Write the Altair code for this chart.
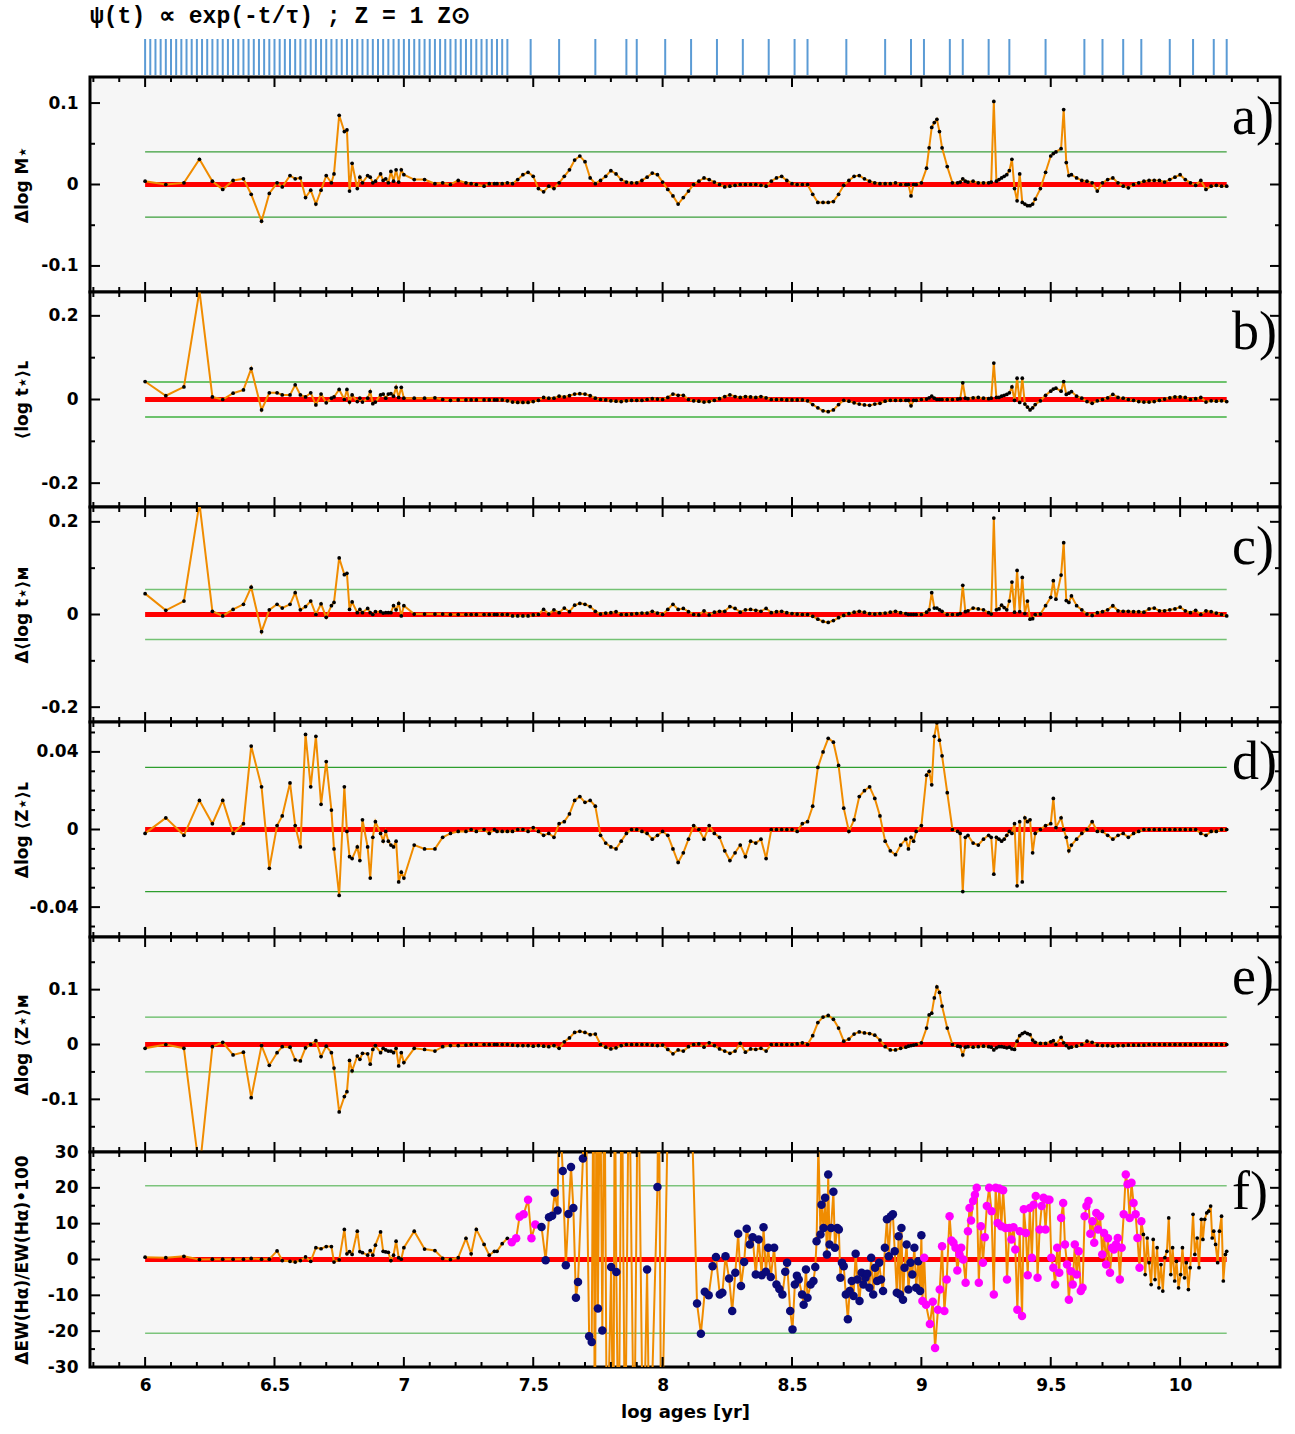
import altair as alt
import pandas as pd

TITLE = "ψ(t) ∝ exp(-t/τ) ; Z = 1 Z⊙"

# ages of the base populations (blue ticks above the first panel)
BASE_AGES = [
    6.00, 6.02, 6.04, 6.06, 6.08, 6.10, 6.12, 6.14, 6.16, 6.18,
    6.20, 6.22, 6.24, 6.26, 6.28, 6.30, 6.32, 6.34, 6.36, 6.38,
    6.40, 6.42, 6.44, 6.46, 6.48, 6.50, 6.52, 6.54, 6.56, 6.58,
    6.60, 6.62, 6.64, 6.66, 6.68, 6.70, 6.72, 6.74, 6.76, 6.78,
    6.80, 6.82, 6.84, 6.86, 6.88, 6.90, 6.92, 6.94, 6.96, 6.98,
    7.00, 7.02, 7.04, 7.06, 7.08, 7.10, 7.12, 7.14, 7.16, 7.18,
    7.20, 7.22, 7.24, 7.26, 7.28, 7.30, 7.32, 7.34, 7.36, 7.38, 7.40,
    7.49, 7.60, 7.74, 7.86, 7.90, 8.01, 8.11, 8.21, 8.31, 8.41,
    8.51, 8.56, 8.71, 8.86, 8.96, 9.01, 9.11, 9.16, 9.26, 9.34,
    9.48, 9.63, 9.70, 9.78, 9.85, 9.96, 10.05, 10.13, 10.18,
]

# ages of the test cases (shared by panels a-e)
LEFT_AGES = [
    6.00, 6.08, 6.15, 6.21, 6.26, 6.30, 6.34, 6.38, 6.41, 6.45,
    6.48, 6.51, 6.53, 6.56, 6.58, 6.60, 6.62, 6.64, 6.66, 6.68,
    6.70, 6.72, 6.73, 6.75, 6.77, 6.78, 6.79, 6.80, 6.82, 6.83,
    6.84, 6.86, 6.87, 6.88, 6.89, 6.91, 6.92, 6.93, 6.94, 6.95,
    6.96, 6.97, 6.98, 6.99, 7.00, 7.04, 7.08, 7.12, 7.15, 7.18,
    7.21, 7.24, 7.26, 7.28, 7.31, 7.33, 7.35, 7.36, 7.38, 7.40,
]
RIGHT_AGES = [
    7.42, 7.44, 7.46, 7.48, 7.50, 7.52, 7.54, 7.56, 7.58, 7.60,
    7.62, 7.64, 7.66, 7.68, 7.70, 7.72, 7.74, 7.76, 7.78, 7.80,
    7.82, 7.84, 7.86, 7.88, 7.90, 7.92, 7.94, 7.96, 7.98, 8.00,
    8.02, 8.04, 8.06, 8.08, 8.10, 8.12, 8.14, 8.16, 8.18, 8.20,
    8.22, 8.24, 8.26, 8.28, 8.30, 8.32, 8.34, 8.36, 8.38, 8.40,
    8.42, 8.44, 8.46, 8.48, 8.50, 8.52, 8.54, 8.56, 8.58, 8.60,
    8.62, 8.64, 8.66, 8.68, 8.70, 8.72, 8.74, 8.76, 8.78, 8.80,
    8.82, 8.84, 8.86, 8.88, 8.90, 8.92, 8.94, 8.95, 8.96, 8.97, 8.98, 9.00,
    9.02, 9.03, 9.04, 9.05, 9.06, 9.07, 9.08, 9.10,
    9.12, 9.14, 9.15, 9.16, 9.17, 9.18, 9.20,
    9.22, 9.24, 9.26, 9.27, 9.28, 9.29, 9.30,
    9.31, 9.32, 9.33, 9.34, 9.35, 9.36, 9.37, 9.38, 9.39, 9.40,
    9.41, 9.42, 9.43, 9.44, 9.46, 9.48, 9.50,
    9.51, 9.52, 9.54, 9.55, 9.56, 9.57, 9.58, 9.60,
    9.62, 9.64, 9.66, 9.68, 9.70, 9.72, 9.74, 9.76, 9.78, 9.80,
    9.82, 9.84, 9.86, 9.88, 9.90, 9.92, 9.94, 9.96, 9.98, 10.00,
    10.02, 10.04, 10.06, 10.08, 10.10, 10.12, 10.14, 10.16, 10.18,
]
AGES = LEFT_AGES + RIGHT_AGES

# a) Delta log M*
A_Y = [
    0.004, 0.0, 0.002, 0.031, 0.004, -0.006, 0.005, 0.007, -0.012, -0.045,
    -0.011, 0.002, -0.003, 0.011, 0.007, 0.008, -0.016, -0.007, -0.024, -0.007,
    0.011, 0.002, 0.013, 0.085, 0.065, 0.067, -0.008, 0.026, -0.005, 0.009,
    0.002, 0.011, 0.009, 0.002, 0.004, 0.013, 0.005, 0.007, 0.002, 0.016,
    0.004, 0.018, 0.003, 0.018, 0.012, 0.006, 0.006, 0.001, 0.002, 0.0,
    0.005, 0.002, 0.001, 0.0, -0.002, 0.001, 0.001, 0.001, 0.001, 0.002,
    0.001, 0.006, 0.012, 0.015, 0.01, -0.005, -0.009, -0.002, -0.005, 0.002,
    0.01, 0.018, 0.03, 0.035, 0.028, 0.008, 0.001, 0.005, 0.01, 0.017,
    0.013, 0.006, 0.003, 0.002, 0.002, 0.005, 0.009, 0.014, 0.012, 0.003,
    -0.006, -0.014, -0.024, -0.016, -0.008, 0.0, 0.004, 0.008, 0.006, 0.003,
    0.0, -0.003, -0.002, -0.001, 0.0, 0.0, 0.0, 0.0, -0.001, -0.002,
    0.004, 0.008, 0.01, 0.005, 0.001, 0.0, 0.0, 0.0, -0.012, -0.022,
    -0.022, -0.022, -0.021, -0.012, -0.001, 0.005, 0.01, 0.011, 0.007, 0.004,
    0.002, 0.001, 0.001, 0.001, 0.002, 0.0, 0.0, 0.0, -0.014, 0.0, 0.0, 0.002,
    0.02, 0.045, 0.07, 0.076, 0.08, 0.065, 0.045, 0.022,
    0.002, 0.002, 0.003, 0.007, 0.004, 0.003, 0.004,
    0.002, 0.002, 0.002, 0.003, 0.102, 0.004, 0.006,
    0.008, 0.01, 0.012, 0.017, 0.031, -0.005, -0.02, 0.013, -0.022, -0.024,
    -0.026, -0.026, -0.024, -0.018, -0.005, 0.015, 0.035,
    0.038, 0.04, 0.044, 0.092, 0.027, 0.011, 0.012, 0.008,
    0.005, 0.004, 0.002, -0.008, 0.002, 0.006, 0.008, 0.002, -0.002, -0.004,
    0.0, 0.002, 0.004, 0.005, 0.005, 0.005, 0.003, 0.006, 0.009, 0.012,
    0.006, 0.002, -0.001, 0.005, -0.006, -0.002, -0.001, -0.002, -0.002,
]

# b) <log t*>_L
B_Y = [
    0.043, 0.009, 0.03, 0.26, 0.006, 0.0, 0.015, 0.023, 0.074, -0.025,
    0.016, 0.016, 0.011, 0.011, 0.035, 0.011, 0.006, 0.016, -0.013, 0.013,
    -0.008, 0.003, 0.006, 0.024, 0.0, 0.024, -0.006, 0.011, -0.005, 0.003,
    -0.006, 0.003, 0.019, -0.01, -0.006, 0.011, 0.013, 0.003, 0.013, 0.014,
    0.008, 0.029, 0.005, 0.029, 0.003, 0.003, 0.003, 0.004, 0.0, -0.002,
    -0.001, -0.001, -0.001, -0.001, -0.001, -0.001, -0.001, -0.001, -0.001, -0.003,
    -0.006, -0.007, -0.007, -0.007, -0.005, -0.002, 0.005, 0.003, 0.003, 0.008,
    0.006, 0.009, 0.013, 0.014, 0.013, 0.009, 0.003, 0.0, -0.001, -0.003,
    -0.004, -0.005, -0.003, -0.002, -0.002, -0.002, 0.0, 0.002, 0.001, 0.0,
    0.005, 0.013, 0.01, 0.01, 0.0, -0.003, -0.004, -0.006, -0.005, -0.002,
    0.002, 0.007, 0.011, 0.007, 0.005, 0.007, 0.006, 0.005, 0.007, 0.004,
    0.0, 0.0, 0.0, -0.001, -0.001, -0.001, -0.001, -0.003, -0.012, -0.02,
    -0.027, -0.029, -0.025, -0.012, -0.002, -0.004, -0.008, -0.011, -0.013, -0.014,
    -0.011, -0.009, -0.004, -0.002, -0.002, -0.002, -0.002, -0.002, -0.015, -0.002, -0.002, 0.0,
    0.001, 0.004, 0.008, 0.003, 0.0, 0.0, 0.0, 0.0,
    0.0, 0.001, 0.002, 0.04, 0.003, 0.002, 0.004,
    0.005, 0.003, 0.002, 0.003, 0.087, 0.005, 0.005,
    0.008, 0.01, 0.012, 0.016, 0.03, -0.002, 0.051, -0.007, 0.051, -0.011,
    -0.018, -0.025, -0.02, -0.012, -0.003, 0.01, 0.02,
    0.025, 0.027, 0.02, 0.043, 0.012, 0.015, 0.019, 0.008,
    0.003, -0.005, -0.009, -0.003, 0.0, 0.004, 0.012, 0.005, 0.003, 0.0,
    -0.002, -0.005, -0.006, -0.006, -0.005, -0.002, 0.001, 0.004, 0.006, 0.006,
    0.005, 0.0, 0.002, 0.005, -0.006, -0.003, -0.004, -0.003, -0.005,
]

# c) Delta <log t*>_M
C_Y = [
    0.045, 0.009, 0.029, 0.24, 0.007, -0.003, 0.011, 0.022, 0.059, -0.037,
    0.01, 0.022, 0.014, 0.022, 0.047, 0.01, 0.017, 0.029, 0.0, 0.023,
    -0.006, 0.019, 0.026, 0.122, 0.086, 0.089, 0.011, 0.027, 0.004, 0.011,
    0.004, 0.013, 0.004, 0.0, 0.006, 0.006, 0.003, 0.004, 0.004, 0.004,
    0.019, 0.01, 0.024, -0.003, 0.019, 0.001, 0.001, 0.001, 0.001, 0.0,
    0.0, 0.0, 0.0, 0.0, 0.0, 0.0, 0.0, 0.0, 0.0, 0.0,
    -0.003, -0.003, -0.003, -0.003, -0.001, 0.0, 0.011, 0.001, 0.01, 0.004,
    0.014, 0.006, 0.02, 0.024, 0.022, 0.017, 0.007, 0.001, 0.003, 0.004,
    0.006, 0.0, 0.0, 0.001, 0.002, 0.003, 0.003, 0.007, 0.003, 0.0,
    0.011, 0.022, 0.011, 0.013, 0.006, 0.0, -0.001, 0.008, -0.001, 0.005,
    0.007, 0.007, 0.017, 0.013, 0.005, 0.01, 0.011, 0.009, 0.007, 0.013,
    0.004, 0.006, 0.007, 0.004, 0.002, 0.001, 0.0, 0.0, -0.004, -0.01,
    -0.015, -0.017, -0.013, -0.007, -0.002, 0.002, 0.005, 0.007, 0.005, 0.002,
    0.001, 0.002, 0.003, 0.005, 0.007, 0.004, 0.002, 0.0, 0.0, 0.0, 0.0, 0.0,
    0.005, 0.01, 0.047, 0.014, 0.014, 0.01, 0.007, 0.0,
    0.0, 0.0, 0.002, 0.063, 0.006, 0.008, 0.014,
    0.012, 0.01, 0.004, 0.001, 0.208, 0.01, 0.012,
    0.02, 0.015, 0.01, 0.029, 0.07, 0.005, 0.095, 0.006, 0.08, 0.002,
    0.029, -0.01, -0.009, 0.0, 0.001, 0.019, 0.037,
    0.073, 0.033, 0.085, 0.155, 0.03, 0.026, 0.04, 0.019,
    0.01, 0.001, -0.002, 0.004, 0.006, 0.01, 0.019, 0.008, 0.007, 0.007,
    0.006, 0.006, 0.005, 0.012, 0.014, 0.008, 0.008, 0.01, 0.012, 0.016,
    0.008, 0.004, 0.009, 0.0, 0.008, 0.006, 0.003, 0.0, -0.003,
]

# d) Delta log <Z*>_L
D_Y = [
    -0.002, 0.006, -0.003, 0.015, 0.003, 0.015, -0.002, 0.003, 0.043, 0.022,
    -0.02, 0.002, 0.007, 0.024, 0.002, -0.009, 0.049, 0.022, 0.048, 0.013,
    0.035, 0.01, -0.01, -0.034, 0.022, -0.001, -0.014, -0.015, -0.009, -0.016,
    0.005, -0.009, -0.025, -0.004, 0.004, -0.002, -0.006, -0.001, -0.006, -0.008,
    -0.009, -0.006, -0.027, -0.022, -0.025, -0.008, -0.01, -0.01, -0.004, -0.002,
    -0.001, -0.001, 0.0, -0.001, 0.0, -0.002, 0.0, -0.001, -0.001, -0.001,
    -0.001, 0.0, 0.0, -0.001, 0.001, -0.001, -0.003, -0.002, -0.004, 0.003,
    0.004, 0.008, 0.015, 0.017, 0.014, 0.015, 0.012, -0.003, -0.007, -0.009,
    -0.01, -0.006, -0.002, 0.0, 0.0, -0.001, -0.002, -0.005, -0.003, -0.001,
    -0.003, -0.01, -0.017, -0.012, -0.005, 0.002, 0.0, -0.005, 0.002, -0.002,
    -0.004, -0.011, -0.016, -0.012, -0.008, -0.014, -0.006, -0.007, -0.005, -0.015,
    0.0, 0.0, 0.0, 0.0, 0.0, -0.001, 0.003, 0.004, 0.012, 0.032,
    0.04, 0.047, 0.045, 0.033, 0.011, -0.001, 0.005, 0.017, 0.02, 0.022,
    0.016, 0.007, -0.006, -0.011, -0.013, -0.008, -0.005, -0.01, -0.004, -0.006, -0.001, 0.002,
    0.028, 0.03, 0.023, 0.048, 0.055, 0.046, 0.038, 0.019,
    0.0, -0.001, -0.002, -0.032, -0.004, -0.003, -0.007,
    -0.008, -0.005, -0.003, -0.004, -0.023, -0.004, -0.005,
    -0.006, -0.005, -0.003, -0.001, -0.002, 0.003, -0.029, 0.004, -0.027, 0.006,
    0.004, 0.005, -0.012, -0.002, 0.0, 0.002, 0.003,
    0.016, 0.001, 0.006, 0.0, -0.004, -0.011, -0.008, -0.005,
    -0.002, 0.0, 0.004, -0.001, -0.001, -0.003, -0.005, -0.003, -0.002, -0.004,
    -0.002, -0.001, 0.0, 0.0, 0.0, 0.0, 0.0, 0.0, 0.0, 0.0,
    0.0, 0.0, 0.0, -0.002, -0.003, -0.001, -0.001, 0.0, 0.0,
]

# e) Delta log <Z*>_M
E_Y = [
    -0.007, 0.0, -0.007, -0.23, -0.004, 0.004, -0.019, -0.014, -0.097, -0.002,
    -0.038, -0.015, -0.004, -0.005, -0.028, -0.03, -0.006, 0.0, 0.007, -0.022,
    -0.003, -0.015, -0.043, -0.123, -0.095, -0.086, -0.029, -0.048, -0.021, -0.027,
    -0.016, -0.017, -0.036, -0.009, -0.002, -0.015, -0.007, -0.01, -0.012, -0.012,
    -0.015, -0.007, -0.039, -0.015, -0.033, -0.007, -0.009, -0.012, -0.004, -0.002,
    -0.002, -0.001, 0.0, 0.0, 0.0, 0.0, 0.0, 0.0, 0.0, 0.0,
    -0.001, -0.002, -0.002, -0.002, -0.003, -0.002, -0.003, -0.004, -0.002, -0.007,
    0.005, 0.012, 0.022, 0.024, 0.022, 0.018, 0.019, 0.0, -0.005, -0.008,
    -0.006, -0.002, 0.0, 0.0, 0.0, 0.0, 0.0, -0.001, -0.002, -0.001,
    -0.009, -0.017, -0.01, -0.012, -0.004, 0.0, 0.001, -0.005, 0.003, -0.002,
    -0.008, -0.012, -0.016, -0.012, 0.002, -0.014, -0.008, -0.009, -0.007, -0.012,
    0.0, 0.0, 0.0, 0.0, 0.0, 0.001, 0.003, 0.0, 0.016, 0.04,
    0.05, 0.053, 0.046, 0.03, 0.006, 0.01, 0.019, 0.023, 0.021, 0.02,
    0.017, 0.008, -0.004, -0.01, -0.01, -0.007, -0.005, -0.003, -0.002, -0.001, 0.0, 0.003,
    0.03, 0.054, 0.057, 0.085, 0.105, 0.095, 0.07, 0.03,
    0.0, -0.003, -0.004, -0.019, -0.005, -0.004, -0.005,
    -0.004, -0.003, -0.004, -0.005, -0.01, -0.006, -0.004,
    -0.004, -0.005, -0.006, -0.005, -0.008, -0.009, 0.006, 0.016, 0.02, 0.022,
    0.02, 0.018, 0.008, 0.004, 0.002, 0.002, 0.005,
    0.007, 0.0, 0.013, 0.003, -0.002, -0.006, -0.005, -0.003,
    0.0, 0.006, 0.004, -0.001, -0.002, -0.002, -0.003, -0.002, -0.002, -0.001,
    -0.001, -0.001, -0.001, 0.0, 0.0, 0.0, 0.0, 0.0, 0.0, 0.0,
    0.0, 0.0, 0.0, 0.0, 0.0, 0.0, 0.0, 0.0, 0.0,
]

# f) Delta EW(Halpha)/EW(Halpha)*100 (own sampling to the right of 7.4)
F_Y_LEFT = [
    0.65, 0.5, 0.9, 0.0, 0.1, 0.1, 0.1, 0.1, 0.3, 0.1,
    0.1, 2.4, -0.3, -0.5, -0.7, -0.3, 0.7, -0.5, 3.3, 3.0,
    3.6, 3.6, -0.7, -0.1, 8.4, 1.6, 2.2, 1.4, 7.9, 2.2,
    1.9, 1.2, 2.5, 1.2, 4.0, 7.7, 2.3, 2.1, 2.0, -0.3,
    1.2, 5.1, 0.5, 0.1, 3.3, 7.9, 2.9, 2.5, 0.3, 0.0,
    0.5, 5.9, 1.6, 8.4, 4.2, 1.2, 2.3, 2.3, 4.4, 5.9,
]
F_AGES_RIGHT = [
    7.417, 7.434, 7.447, 7.463, 7.480, 7.493, 7.508, 7.532, 7.548, 7.561,
    7.573, 7.583, 7.594, 7.600, 7.614, 7.626, 7.636, 7.646, 7.655, 7.665,
    7.673, 7.692, 7.700, 7.716, 7.726, 7.733, 7.738, 7.745, 7.750, 7.758,
    7.767, 7.775, 7.785, 7.801, 7.810, 7.815, 7.821, 7.830, 7.842, 7.855,
    7.870, 7.890, 7.905, 7.925, 7.940, 7.950, 7.980, 7.985, 7.995, 8.025,
    8.105, 8.133, 8.148, 8.163, 8.178, 8.193, 8.206, 8.221, 8.231, 8.243,
    8.257, 8.269, 8.281, 8.292, 8.303, 8.315, 8.325, 8.337, 8.348, 8.360,
    8.371, 8.383, 8.390, 8.399, 8.408, 8.418, 8.431, 8.440, 8.451, 8.463,
    8.474, 8.481, 8.493, 8.502, 8.511, 8.519, 8.526, 8.539, 8.545, 8.554,
    8.560, 8.572, 8.583, 8.590, 8.595, 8.602, 8.610, 8.614, 8.622, 8.628,
    8.635, 8.640, 8.645, 8.651, 8.660, 8.666, 8.675, 8.681, 8.687, 8.693,
    8.700, 8.708, 8.716, 8.723, 8.731, 8.738, 8.746, 8.753, 8.761, 8.769,
    8.776, 8.784, 8.791, 8.799, 8.806, 8.814, 8.821, 8.829, 8.837, 8.844,
    8.852, 8.859, 8.867, 8.874, 8.882, 8.890, 8.897, 8.905, 8.912, 8.917,
    8.923, 8.929, 8.935, 8.943, 8.950, 8.958, 8.965, 8.973, 8.980, 8.988,
    8.995, 9.000, 9.004, 9.011, 9.018, 9.033, 9.044, 9.053, 9.064, 9.071,
    9.080, 9.089, 9.098, 9.109, 9.116, 9.124, 9.132, 9.139, 9.147, 9.154,
    9.162, 9.171, 9.180, 9.186, 9.192, 9.200, 9.207, 9.214, 9.222, 9.230,
    9.238, 9.245, 9.253, 9.262, 9.271, 9.280, 9.287, 9.295, 9.301, 9.309,
    9.316, 9.325, 9.331, 9.340, 9.348, 9.356, 9.363, 9.371, 9.380, 9.389,
    9.396, 9.404, 9.411, 9.419, 9.427, 9.434, 9.442, 9.449, 9.457, 9.465,
    9.472, 9.480, 9.487, 9.495, 9.502, 9.510, 9.517, 9.525, 9.533, 9.540,
    9.548, 9.555, 9.563, 9.570, 9.578, 9.585, 9.593, 9.600, 9.608, 9.616,
    9.623, 9.631, 9.638, 9.646, 9.653, 9.661, 9.668, 9.676, 9.683, 9.691,
    9.699, 9.706, 9.714, 9.721, 9.729, 9.737, 9.744, 9.752, 9.759, 9.767,
    9.774, 9.782, 9.790, 9.797, 9.805, 9.812, 9.820, 9.828, 9.835, 9.843,
    9.850, 9.858, 9.865, 9.873, 9.880, 9.888, 9.896, 9.903, 9.911, 9.918,
    9.926, 9.933, 9.941, 9.949, 9.956, 9.964, 9.971, 9.979, 9.986, 9.994,
    10.002, 10.009, 10.017, 10.024, 10.032, 10.039, 10.050, 10.057, 10.066, 10.073,
    10.082, 10.088, 10.095, 10.103, 10.110, 10.118, 10.124, 10.130, 10.137, 10.145,
    10.152, 10.160, 10.167, 10.175, 10.180,
]
F_Y_RIGHT = [
    4.8, 5.9, 11.9, 12.6, 16.7, 5.9, 9.8, 9.1, -0.2, 11.8,
    12.2, 18.6, 13.7, 45.0, 24.7, -1.6, 12.7, 25.8, 14.4, -10.7,
    -6.3, 28.2, 60.0, -21.4, -23.0, 60.0, -60.0, 60.0, -13.7, 60.0,
    -19.8, 60.0, -60.0, -2.1, -60.0, 60.0, -3.5, -60.0, 60.0, -60.0,
    60.0, -60.0, 60.0, -60.0, -2.8, -60.0, 20.2, 60.0, -60.0, 60.0,
    60.0, -12.3, -20.7, -9.0, -10.0, -1.9, 0.7, -9.8, -9.3, 0.9,
    -5.3, -14.4, -3.7, 7.2, -7.4, -0.7, 8.6, 4.2, 6.2, -4.2,
    5.6, -4.4, 9.0, -3.4, 3.3, -4.9, 3.3, -7.0, -8.2, -9.8,
    -3.4, -0.9, -14.4, -19.5, -7.0, -4.5, -5.6, -9.8, -12.6, -2.8,
    -10.7, -7.0, -6.0, -2.1, 5.1, 32.0, 7.0, 15.3, 8.8, 17.2,
    1.4, 23.7, 4.2, 8.8, 18.9, 3.3, 8.8, 8.4, -5.1, -0.9,
    -1.9, -9.8, -16.7, -8.8, -6.0, -10.2, 1.6, -5.6, -11.6, -3.7,
    -7.0, -5.1, -4.0, -7.9, 0.5, -9.8, -2.3, -6.0, -0.9, -5.6,
    -8.8, 3.3, 11.2, 0.9, 12.1, 12.6, 2.3, -9.3, 6.5, -9.8,
    8.8, -11.2, -2.3, 4.2, -8.4, -0.9, -4.2, 3.3, -7.9, -0.5,
    -8.8, 6.8, -11.6, 0.5, -12.6, -18.0, -11.8, -24.7, -14.0, -8.4,
    3.7, -14.4, -5.6, 12.1, 5.3, 4.7, 3.3, -3.1, 1.4, 3.3,
    0.0, -6.5, 7.9, 14.4, 10.9, 16.3, 18.1, 20.0, -6.5, 9.3,
    -0.9, 6.2, 14.9, 20.0, 13.5, -9.8, 20.0, 10.2, 19.8, 9.3,
    19.3, 8.8, -5.6, 8.8, 5.6, 9.0, 2.8, -14.0, 7.9, -15.8,
    14.0, 7.4, -4.4, 14.4, 0.5, 15.3, 17.7, -5.1, 8.4, 14.9,
    17.2, 8.4, 16.7, 16.7, 0.5, -2.3, -7.0, 3.3, -3.7, 11.6,
    15.8, 4.2, -1.4, -11.2, -3.3, -7.0, 4.2, -4.2, 2.3, -8.8,
    -7.9, 12.1, 14.9, 16.3, 7.2, 10.7, 4.7, 13.0, 8.4, 12.1,
    1.4, 7.4, -1.4, 5.9, -3.7, 3.3, 2.8, 4.2, 6.0, -5.6,
    3.3, 12.6, 23.7, 21.0, 11.6, 21.4, 15.8, 12.6, 6.0, -2.3,
    10.7, 7.0, -4.2, 6.0, -0.9, -7.0, 5.6, -5.6, 3.3, -7.9,
    -1.4, -8.8, 0.5, 2.3, 11.6, -4.2, 3.3, -6.0, -0.5, -7.9,
    -4.2, 3.3, -5.1, -0.9, -8.4, -2.3, 12.6, 1.4, 6.0, -2.3,
    11.2, 5.6, 11.2, 13.0, 13.5, 14.9, 6.0, 7.9, 4.2, -0.9,
    7.9, 12.1, -6.0, 1.4, 2.3,
]
F_AGES = LEFT_AGES + F_AGES_RIGHT
F_Y = F_Y_LEFT + F_Y_RIGHT

ZERO_START, ZERO_END = 6.0, 10.18
X_DOMAIN = [5.787, 10.386]
X_MAJOR = [6.0, 6.5, 7.0, 7.5, 8.0, 8.5, 9.0, 9.5, 10.0]
X_MINOR = [5.8, 5.9, 6.1, 6.2, 6.3, 6.4, 6.6, 6.7, 6.8, 6.9, 7.1, 7.2, 7.3, 7.4,
           7.6, 7.7, 7.8, 7.9, 8.1, 8.2, 8.3, 8.4, 8.6, 8.7, 8.8, 8.9, 9.1, 9.2,
           9.3, 9.4, 9.6, 9.7, 9.8, 9.9, 10.1, 10.2, 10.3]

W, H = 1190, 215
FONT = "DejaVu Sans"
ORANGE = "#f08c00"
RED = "#ff0000"
NAVY = "#0a0a78"
MAGENTA = "#ff00ff"
BLUE = "#5b9bd5"
BG = "#f6f6f6"
MAJ, MIN = 10, 5
LABEL_EXPR = "toString(datum.value)"


def x_ticks(values, xs, length, at_top):
    ypos = length / 2 if at_top else H - length / 2
    return alt.Chart(pd.DataFrame({"v": values})).mark_tick(
        orient="vertical", size=length, thickness=2, color="black", opacity=1
    ).encode(x=alt.X("v:Q", scale=xs, axis=None), y=alt.value(ypos))


def y_ticks(values, ys, length, at_left):
    xpos = length / 2 if at_left else W - length / 2
    return alt.Chart(pd.DataFrame({"v": values})).mark_tick(
        orient="horizontal", size=length, thickness=2, color="black", opacity=1
    ).encode(y=alt.Y("v:Q", scale=ys, axis=None), x=alt.value(xpos))


def panel(ages, vals, ydom, ymajor, yminor, ytitle, green, gcolor, tag, bottom=False):
    xs = alt.Scale(domain=X_DOMAIN, nice=False, zero=False)
    ys = alt.Scale(domain=ydom, nice=False, zero=False)
    df = pd.DataFrame({"age": ages, "val": vals})
    rules = pd.DataFrame({"x0": [ZERO_START] * 2, "x1": [ZERO_END] * 2, "y": [green, -green]})
    zero = pd.DataFrame({"x0": [ZERO_START], "x1": [ZERO_END], "y": [0.0]})

    ylab = alt.Axis(orient="left", values=ymajor, labelExpr=LABEL_EXPR, ticks=False,
                    domain=False, grid=False, labelPadding=12, title=ytitle, titleX=-68,
                    titleY=H / 2, titleAngle=270, titleAlign="center",
                    titleBaseline="middle")
    if bottom:
        xlab = alt.Axis(orient="bottom", values=X_MAJOR, labelExpr=LABEL_EXPR, ticks=False,
                        domain=False, grid=False, labelPadding=10, title="log ages [yr]",
                        titleFontSize=18, titlePadding=10)
    else:
        xlab = None

    # first layer carries the labelled axes
    l_zero = alt.Chart(zero).mark_rule(color=RED, strokeWidth=5).encode(
        x=alt.X("x0:Q", scale=xs, axis=xlab),
        x2="x1:Q",
        y=alt.Y("y:Q", scale=ys, axis=ylab),
    )
    l_green = alt.Chart(rules).mark_rule(color=gcolor, strokeWidth=1.4).encode(
        x=alt.X("x0:Q", scale=xs, axis=None),
        x2="x1:Q",
        y=alt.Y("y:Q", scale=ys, axis=None),
    )
    l_line = alt.Chart(df).mark_line(color=ORANGE, strokeWidth=2, clip=True).encode(
        x=alt.X("age:Q", scale=xs, axis=None),
        y=alt.Y("val:Q", scale=ys, axis=None),
    )
    if bottom:
        kinds = []
        for a in ages:
            if a < 7.41 or a >= 9.855:
                kinds.append("k")
            elif a < 7.52 or a > 9.0:
                kinds.append("m")
            else:
                kinds.append("n")
        df = df.assign(kind=kinds)
        df_black = df[df["kind"] == "k"]
        df_col = df[(df["kind"] != "k") & (df["val"].abs() <= 30)]
    else:
        df_black = df
        df_col = None

    l_dots = alt.Chart(df_black).mark_circle(size=14, color="black", opacity=1, clip=True).encode(
        x=alt.X("age:Q", scale=xs, axis=None),
        y=alt.Y("val:Q", scale=ys, axis=None),
    )
    layers = [l_zero, l_green, l_line, l_dots]
    if df_col is not None:
        l_col = alt.Chart(df_col).mark_circle(size=72, opacity=1, clip=True).encode(
            x=alt.X("age:Q", scale=xs, axis=None),
            y=alt.Y("val:Q", scale=ys, axis=None),
            color=alt.Color("kind:N", scale=alt.Scale(domain=["m", "n"], range=[MAGENTA, NAVY]),
                            legend=None),
        )
        layers.append(l_col)
    layers += [
        x_ticks(X_MAJOR, xs, MAJ, True), x_ticks(X_MINOR, xs, MIN, True),
        x_ticks(X_MAJOR, xs, MAJ, False), x_ticks(X_MINOR, xs, MIN, False),
        y_ticks(ymajor, ys, MAJ, True), y_ticks(yminor, ys, MIN, True),
        y_ticks(ymajor, ys, MAJ, False), y_ticks(yminor, ys, MIN, False),
    ]
    l_tag = alt.Chart(pd.DataFrame({"t": [tag]})).mark_text(
        font="Liberation Serif", fontSize=54, align="left", baseline="alphabetic", color="black"
    ).encode(x=alt.value(1142), y=alt.value(57), text="t:N")
    layers.append(l_tag)

    return alt.layer(*layers).resolve_axis(x="independent", y="independent").properties(
        width=W, height=H,
        view=alt.ViewBackground(fill=BG, stroke="black", strokeWidth=3),
    )


strip = alt.Chart(pd.DataFrame({"age": BASE_AGES})).mark_rule(color=BLUE, strokeWidth=2).encode(
    x=alt.X("age:Q", scale=alt.Scale(domain=X_DOMAIN, nice=False, zero=False), axis=None),
    y=alt.value(0),
    y2=alt.value(36),
).properties(
    width=W, height=38,
    view=alt.ViewBackground(fill=None, stroke=None),
    title=alt.TitleParams(TITLE, anchor="start", font="Liberation Mono", fontSize=23,
                          fontWeight="bold", color="black", offset=10),
)

pa = panel(AGES, A_Y, [-0.132, 0.132], [-0.1, 0, 0.1], [-0.05, 0.05], "Δlog M⋆",
           0.04, "#3a9e3a", "a)")
pb = panel(AGES, B_Y, [-0.257, 0.257], [-0.2, 0, 0.2], [-0.1, 0.1], "⟨log t⋆⟩ʟ",
           0.042, "#3fb03f", "b)")
pc = panel(AGES, C_Y, [-0.232, 0.232], [-0.2, 0, 0.2], [-0.1, 0.1], "Δ⟨log t⋆⟩ᴍ",
           0.054, "#74c274", "c)")
pd_ = panel(AGES, D_Y, [-0.0554, 0.0554], [-0.04, 0, 0.04],
            [-0.05, -0.03, -0.02, -0.01, 0.01, 0.02, 0.03, 0.05], "Δlog ⟨Z⋆⟩ʟ",
            0.032, "#2e9e2e", "d)")
pe = panel(AGES, E_Y, [-0.196, 0.196], [-0.1, 0, 0.1], [-0.15, -0.05, 0.05, 0.15],
           "Δlog ⟨Z⋆⟩ᴍ", 0.05, "#5cb85c", "e)")
pf = panel(F_AGES, F_Y, [-30, 30], [-30, -20, -10, 0, 10, 20, 30],
           [-25, -15, -5, 5, 15, 25], "ΔEW(Hα)/EW(Hα)•100", 20.6, "#7cc47c", "f)",
           bottom=True)

chart = alt.vconcat(strip, pa, pb, pc, pd_, pe, pf, spacing=0, bounds="flush").properties(
    padding={"left": 11, "top": 5, "right": 5, "bottom": 5},
).configure(background="white").configure_axis(
    labelFont=FONT, labelFontSize=17, labelFontWeight="bold", labelColor="black",
    titleFont=FONT, titleFontSize=17, titleFontWeight="bold", titleColor="black",
)

chart.save("out.html", embed_options={"renderer": "svg", "actions": False})
